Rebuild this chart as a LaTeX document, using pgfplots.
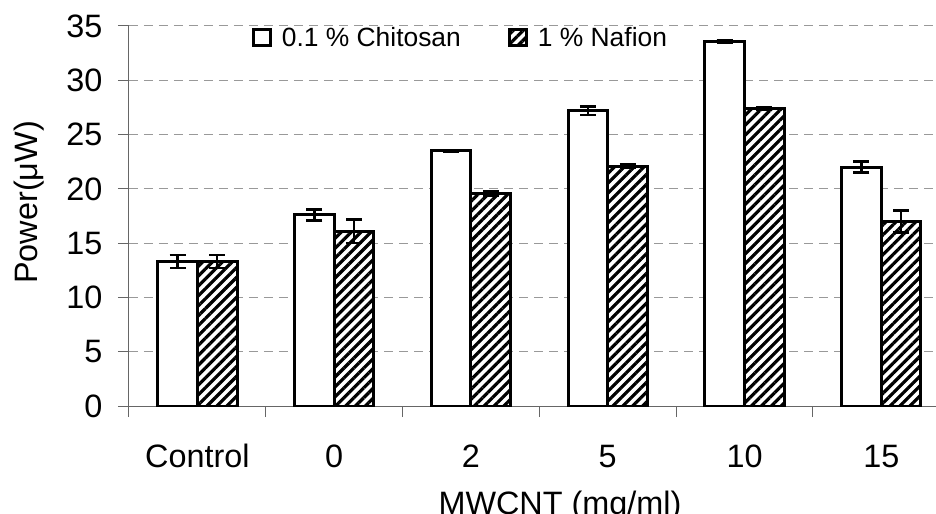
\documentclass[border=0pt]{standalone}
\usepackage{fontspec}
\setmainfont{Liberation Sans}
\usepackage{pgfplots}
\pgfplotsset{compat=1.18}
\usetikzlibrary{patterns.meta}
\newcommand{\bigfs}{\fontsize{32.5}{38}\selectfont}
\newcommand{\legfs}{\fontsize{26.5}{31}\selectfont}
\begin{document}
\begin{tikzpicture}[font=\bigfs]
\begin{axis}[
  at={(0,0)}, anchor=south west,
  scale only axis, width=807bp, height=380bp,
  xmin=-0.5, xmax=5.4, ymin=0, ymax=35,
  ytick={0,5,...,35},
  /pgf/number format/assume math mode=true,
  tick label style={font=\bigfs}, label style={font=\bigfs},
  axis lines*=left,
  axis line style={black!60, line width=1bp},
  tick align=outside, major tick length=11bp,
  tick style={black!60, line width=1bp},
  ymajorgrids, grid style={black!40, dash pattern=on 9bp off 6bp, line width=1bp},
  xtick={-0.5,0.5,1.5,2.5,3.5,4.5}, xticklabels={},
  extra x ticks={0,1,2,3,4,5},
  extra x tick labels={Control,0,2,5,10,15},
  extra x tick style={major tick length=0pt,
    xticklabel style={anchor=base, yshift=-61bp, text height=, text depth=}},
  yticklabel style={xshift=-12bp},
  ybar, bar width=0.29,
  xlabel={MWCNT (mg/ml)},
  xlabel style={at={(rel axis cs:0.534,0)}, anchor=north, yshift=-82bp},
  ylabel={Power(μW)},
  ylabel style={at={(rel axis cs:-0.124,0.536)}, anchor=center},
  legend style={at={(rel axis cs:0.152,0.970)}, anchor=west, draw=none, fill=none, font=\legfs,
    inner sep=0pt, legend columns=2,
    /tikz/every even column/.append style={column sep=45bp},
    /tikz/every odd column/.append style={column sep=8bp}},
  legend cell align=left,
  legend image code/.code={\draw[#1, line width=3bp] (0bp,-8bp) rectangle (17bp,8bp);},
  error bars/y dir=both, error bars/y explicit,
  error bars/error bar style={line width=2.5bp, black, solid},
  error bars/error mark options={rotate=90, mark size=8bp, line width=2.5bp, black, solid},
]
\addplot[ybar, bar shift=-0.145, fill=white, draw=black, line width=3bp]
  coordinates {(0,13.3) +- (0,0.6) (1,17.6) +- (0,0.5) (2,23.5) +- (0,0.1)
               (3,27.2) +- (0,0.4) (4,33.6) +- (0,0.1) (5,22.0) +- (0,0.5)};
\addlegendentry{0.1 \% Chitosan}
\addplot[ybar, bar shift=0.145, fill=white, draw=black, line width=3bp,
  postaction={pattern={Lines[angle=45,distance=7bp,line width=3.2bp]}, pattern color=black}]
  coordinates {(0,13.3) +- (0,0.6) (1,16.1) +- (0,1.1) (2,19.6) +- (0,0.2)
               (3,22.1) +- (0,0.15) (4,27.4) +- (0,0.1) (5,17.0) +- (0,1.0)};
\addlegendentry{1 \% Nafion}
\end{axis}
\pgfresetboundingbox
\path[use as bounding box] (-129bp,-108bp) rectangle (807bp,406bp);
\end{tikzpicture}
\end{document}
